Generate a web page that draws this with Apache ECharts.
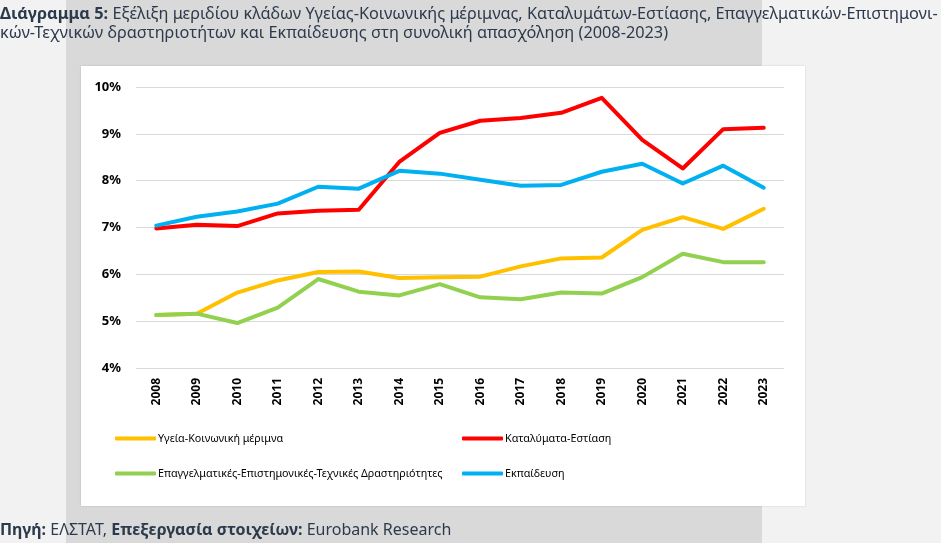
<!DOCTYPE html>
<html><head><meta charset="utf-8">
<script src="https://cdn.jsdelivr.net/npm/echarts@6/dist/echarts.min.js"></script>
<style>html,body{margin:0;padding:0;background:#f2f2f2}#c{width:941px;height:543px}</style>
</head><body><div id="c"></div>
<script>
const years = ['2008','2009','2010','2011','2012','2013','2014','2015','2016','2017','2018','2019','2020','2021','2022','2023'];
const health = [5.13,5.16,5.61,5.87,6.05,6.06,5.92,5.94,5.95,6.17,6.34,6.36,6.95,7.22,6.97,7.40];
const hotels = [6.98,7.06,7.03,7.30,7.36,7.38,8.40,9.02,9.28,9.34,9.45,9.77,8.87,8.26,9.10,9.13];
const professional = [5.13,5.16,4.96,5.29,5.90,5.63,5.55,5.79,5.51,5.47,5.61,5.59,5.94,6.44,6.26,6.26];
const education = [7.04,7.23,7.34,7.51,7.87,7.83,8.21,8.15,8.02,7.89,7.91,8.19,8.36,7.94,8.32,7.85];
const names = ['Υγεία-Κοινωνική μέριμνα','Καταλύματα-Εστίαση','Επαγγελματικές-Επιστημονικές-Τεχνικές Δραστηριότητες','Εκπαίδευση'];
const colors = ['#FFC000','#FF0000','#92D050','#00B0F0'];
const seriesData = [health, hotels, professional, education];

const chart = echarts.init(document.getElementById('c'));
const legendPos = [[110,428],[457,428],[110,463],[457,463]];
const font = '"Noto Sans", "DejaVu Sans", sans-serif';
const tcol = '#2c3a4d';
chart.setOption({
  backgroundColor: '#f2f2f2',
  animation: false,
  textStyle: {fontFamily: font},
  graphic: [
    {type:'rect', z:-10, shape:{x:66,y:0,width:696,height:543}, style:{fill:'#d9d9d9'}},
    {type:'rect', z:-9, shape:{x:81,y:66,width:724,height:440}, style:{fill:'#ffffff', shadowBlur:2, shadowColor:'rgba(0,0,0,0.15)'}},
    {type:'text', left:0, top:6, style:{
      rich:{b:{fontWeight:'bold',fontSize:16.3,fill:tcol,fontFamily:font,lineHeight:19},
            r:{fontSize:16.3,fill:tcol,fontFamily:font,lineHeight:19}},
      text:'{b|Διάγραμμα 5:}{r| Εξέλιξη μεριδίου κλάδων Υγείας-Κοινωνικής μέριμνας, Καταλυμάτων-Εστίασης, Επαγγελματικών-Επιστημονι-}\n{r|κών-Τεχνικών δραστηριοτήτων και Εκπαίδευσης στη συνολική απασχόληση (2008-2023)}'
    }},
    {type:'text', left:0, top:522, style:{
      rich:{b:{fontWeight:'bold',fontSize:16,fill:tcol,fontFamily:font},
            r:{fontSize:16,fill:tcol,fontFamily:font}},
      text:'{b|Πηγή:}{r| ΕΛΣΤΑΤ, }{b|Επεξεργασία στοιχείων:}{r| Eurobank Research}'
    }}
  ],
  legend: names.map((n,i)=>({
    data:[n], left:legendPos[i][0], top:legendPos[i][1],
    itemWidth:41, itemHeight:4, icon:'roundRect', itemGap:0,
    textStyle:{fontSize:10.75, color:'#000', fontFamily:font, padding:[0,0,0,-3]},
    selectedMode:false
  })),
  grid: {left:136, right:157, top:87, bottom:175, containLabel:false},
  xAxis: {
    type:'category', data: years, boundaryGap:true,
    axisLine:{show:false}, axisTick:{show:false},
    axisLabel:{rotate:90, color:'#000', fontWeight:'bold', fontSize:12, margin:10, fontFamily:font}
  },
  yAxis: {
    type:'value', min:4, max:10, interval:1,
    axisLine:{show:false}, axisTick:{show:false},
    axisLabel:{formatter:'{value}%', color:'#000', fontWeight:'bold', fontSize:13, margin:15, fontFamily:font},
    splitLine:{lineStyle:{color:'#d9d9d9', width:1}}
  },
  series: names.map((n,i)=>({
    name:n, type:'line', data:seriesData[i], symbol:'none',
    lineStyle:{color:colors[i], width:4, join:'round', cap:'round'},
    itemStyle:{color:colors[i]}, z: i===2?3:(i===0?2:4)
  }))
});
</script></body></html>
